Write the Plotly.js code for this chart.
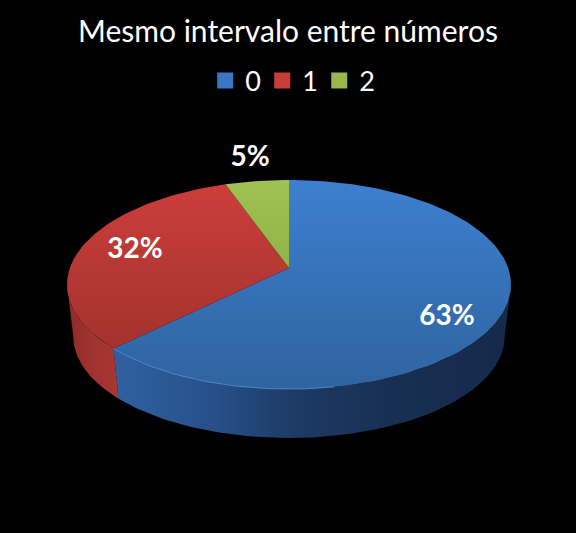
<!DOCTYPE html>
<html><head><meta charset="utf-8">
<script src="https://cdn.plot.ly/plotly-3.0.1.min.js"></script>
<style>html,body{margin:0;padding:0;background:#000}#c{width:576px;height:533px}</style></head>
<body><div id="c"></div>
<script>
const titleText = "Mesmo intervalo entre números";
const categories = ["0","1","2"];
const shares = [62.6,32.0,5.4];
const shownLabels = shares.map(v=>Math.round(v)+"%");

const swatchColors = ["#3a78c6","#c93d39","#98b84c"];
const topGradients = [
  [[0,"#2e649f"],[1,"#3d7fd0"]],
  [[0,"#a3322e"],[1,"#cc3e3a"]],
  [[0,"#90b348"],[1,"#a0c253"]]
];
const wallGradients = [
  [[0,"#2f61a1"],[0.25,"#27508a"],[0.45,"#1d3b66"],[0.7,"#182f53"],[1,"#16294a"]],
  [[0,"#8f2b27"],[0.5,"#a1332f"],[1,"#a83632"]],
  [[0,"#7d9a3c"],[1,"#7d9a3c"]]
];
const labelX = [447,135,250];
const labelY = [318,251,159];

// Perspective disc projection
const cx=289, topY=268, botY=320.4, k=0.158;
const topA=219.2, topB=101.9, botA=213, botB=99;
function proj(deg,y0,A,B){
  const r=deg*Math.PI/180, u=Math.sin(r), v=-Math.cos(r), w=1-k*v;
  return [cx+A*u/w, y0+B*v/w];
}
function arc(a0,a1,y0,A,B){
  const out=[], n=Math.max(2,Math.ceil(Math.abs(a1-a0)/1.5));
  for(let i=0;i<=n;i++) out.push(proj(a0+(a1-a0)*i/n,y0,A,B));
  return out;
}
const traces=[];
const cum=[0]; shares.forEach(v=>cum.push(cum[cum.length-1]+v));
const total=cum[cum.length-1];
const ang=i=>cum[i]/total*360;
const visFrom=99, visTo=261;

// walls
shares.forEach((v,i)=>{
  const a0=Math.max(ang(i),visFrom), a1=Math.min(ang(i+1),visTo);
  if(a1<=a0) return;
  const pts=arc(a0,a1,topY,topA,topB).concat(arc(a1,a0,botY,botA,botB));
  pts.push(pts[0]);
  traces.push({x:pts.map(p=>p[0]),y:pts.map(p=>p[1]),mode:"lines",line:{width:0},fill:"toself",
    fillgradient:{type:"horizontal",colorscale:wallGradients[i]},showlegend:false,hoverinfo:"skip"});
});
// top faces
shares.forEach((v,i)=>{
  const pts=[[cx,topY]].concat(arc(ang(i),ang(i+1),topY,topA,topB)); pts.push([cx,topY]);
  traces.push({x:pts.map(p=>p[0]),y:pts.map(p=>p[1]),mode:"lines",line:{width:0},fill:"toself",
    fillgradient:{type:"vertical",colorscale:topGradients[i]},showlegend:false,hoverinfo:"skip"});
});
// rim highlight on the blue face
const rim=arc(170,ang(1),topY,topA,topB);
traces.push({x:rim.map(p=>p[0]),y:rim.map(p=>p[1]),mode:"lines",line:{width:1,color:"#5089cf"},showlegend:false,hoverinfo:"skip"});
// labels
traces.push({x:labelX,y:labelY,text:shownLabels,mode:"text",textposition:"middle center",
  textfont:{family:"Lato, Carlito, sans-serif",size:28,color:"#fff",weight:700},showlegend:false,hoverinfo:"skip"});
// legend entries
categories.forEach((c,i)=>{
  traces.push({x:[null],y:[null],name:c,mode:"markers",marker:{symbol:"square",size:17,color:swatchColors[i]},hoverinfo:"skip"});
});

const layout={
  width:576,height:533,paper_bgcolor:"#000",plot_bgcolor:"#000",
  margin:{l:0,r:0,t:0,b:0},
  xaxis:{range:[0,576],visible:false,fixedrange:true},
  yaxis:{range:[533,0],visible:false,fixedrange:true},
  title:{text:titleText,x:0.5,xanchor:"center",y:1-31/533,yanchor:"middle",
    font:{family:"Lato, Carlito, sans-serif",size:30,color:"#fff"}},
  legend:{orientation:"h",x:0.3563,xanchor:"left",y:1-81/533,yanchor:"middle",
    font:{family:"Lato, Carlito, sans-serif",size:27,color:"#fff"},
    bgcolor:"rgba(0,0,0,0)",entrywidth:12,entrywidthmode:"pixels",itemclick:false,itemdoubleclick:false,itemwidth:30,traceorder:"normal"},
  showlegend:true
};
Plotly.newPlot("c",traces,layout,{displayModeBar:false,staticPlot:true});
</script></body></html>
